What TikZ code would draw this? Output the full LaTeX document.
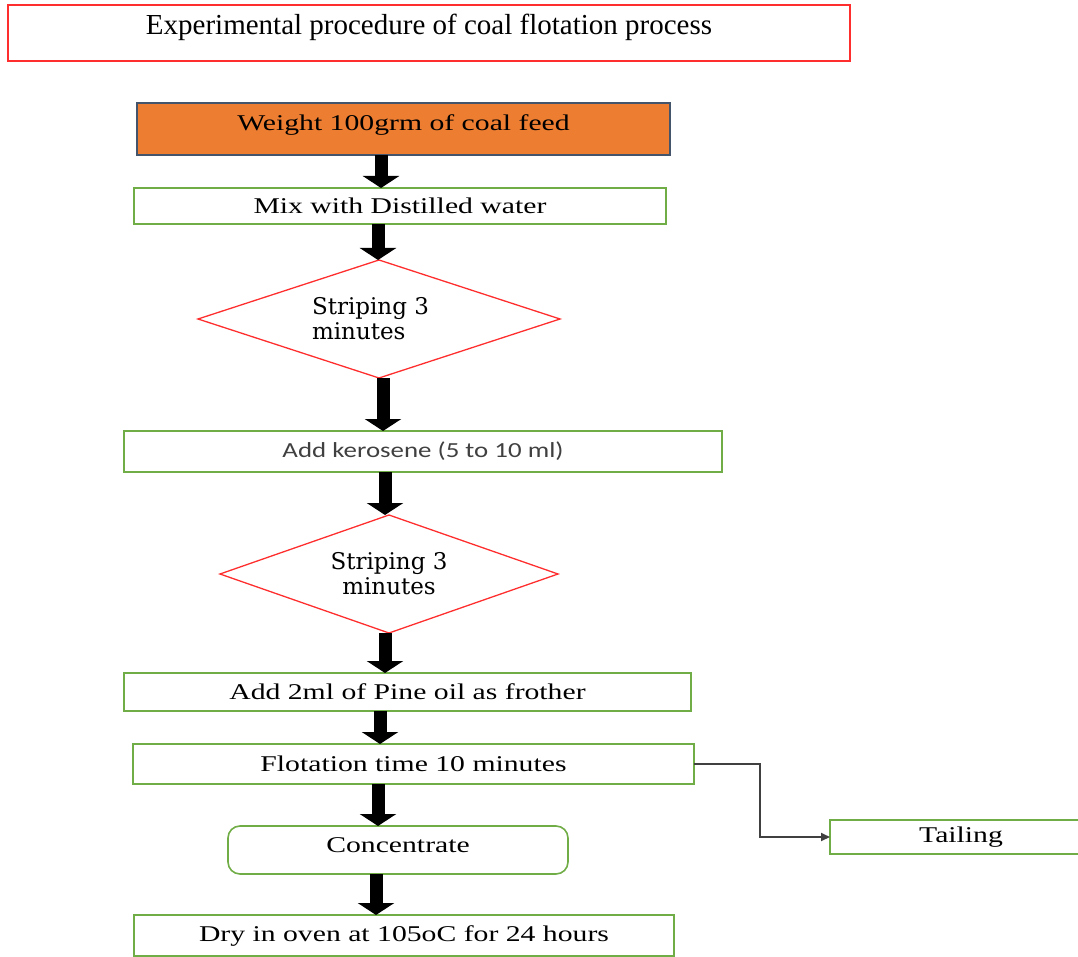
\documentclass[tikz,border=0pt]{standalone}
\usepackage{fontspec}
\setmainfont{Liberation Serif}
\newfontfamily\widefont{Liberation Serif}[FakeStretch=1.32]
\newfontfamily\slabfont{DejaVu Serif}
\newfontfamily\kerofont{Carlito}[FakeStretch=1.25]
\usepackage{tikz}
\usetikzlibrary{shapes.geometric,arrows.meta}
\definecolor{boxgreen}{HTML}{70AD47}
\definecolor{boxred}{HTML}{FF2E2E}
\definecolor{feedorange}{HTML}{ED7D31}
\definecolor{feededge}{HTML}{44546A}

\begin{document}
\begin{tikzpicture}[x=1pt,y=-1pt,
  every node/.style={inner sep=0pt,outer sep=0pt,font=\widefont\fontsize{22.5}{25}\selectfont},
  stepbox/.style={draw=boxgreen,line width=1.6pt},
  choice/.style={diamond,aspect=3,draw=boxred,line width=1.3pt,align=left,font=\slabfont\fontsize{23}{25}\selectfont},
  flowarrow/.style={line width=13pt,-{Triangle[width=36pt,length=12pt]}},
  sidearrow/.style={black!75,line width=1.8pt,-{Triangle[width=8pt,length=9pt]}}]
  \useasboundingbox (0,0) rectangle (1078,957);
  \node[draw=boxred,line width=2.2pt,minimum width=842pt,minimum height=56pt,text depth=18pt,
    font=\fontsize{29}{32}\selectfont] (title) at (429,33) {Experimental procedure of coal flotation process};
  \node[fill=feedorange,draw=feededge,line width=1.6pt,minimum width=533pt,minimum height=52pt,text depth=12pt]
    (weight) at (403.5,129) {Weight 100grm of coal feed};
  \node[stepbox,minimum width=532pt,minimum height=36pt] (mix) at (400,206) {Mix with Distilled water};
  \node[choice,minimum width=362pt,minimum height=118pt] (strip1) at (379,319)
    {Striping 3\hspace*{17pt}\\minutes};
  \node[stepbox,minimum width=598pt,minimum height=41pt,text=black!75,
    font=\kerofont\fontsize{21.5}{25}\selectfont] (kero) at (423,451.5) {Add kerosene (5 to 10 ml)};
  \node[choice,minimum width=338pt,minimum height=118pt,align=center] (strip2) at (389,574) {Striping 3\\minutes};
  \node[stepbox,minimum width=567pt,minimum height=38pt] (pine) at (407.5,692) {Add 2ml of Pine oil as frother};
  \node[stepbox,minimum width=561pt,minimum height=40pt] (flot) at (413.5,764) {Flotation time 10 minutes};
  \node[stepbox,rounded corners=12pt,minimum width=340pt,minimum height=48pt,text depth=10pt]
    (conc) at (398,850) {Concentrate};
  \node[stepbox,minimum width=540pt,minimum height=41pt] (dry) at (404,935.5) {Dry in oven at 105oC for 24 hours};
  \node[stepbox,minimum width=262pt,minimum height=34pt] (tail) at (961,837) {Tailing};
  \draw[flowarrow] (weight.south -| 381,0) -- (mix.north -| 381,0);
  \draw[flowarrow] (mix.south -| 378,0) -- (strip1.north -| 378,0);
  \draw[flowarrow] (strip1.south -| 383,0) -- (kero.north -| 383,0);
  \draw[flowarrow] (kero.south -| 385,0) -- (strip2.north -| 385,0);
  \draw[flowarrow] (strip2.south -| 385,0) -- (pine.north -| 385,0);
  \draw[flowarrow] (pine.south -| 380,0) -- (flot.north -| 380,0);
  \draw[flowarrow] (flot.south -| 378,0) -- (conc.north -| 378,0);
  \draw[flowarrow] (conc.south -| 376,0) -- (dry.north -| 376,0);
  \draw[sidearrow] (flot.east) -- ++(66,0) |- (tail.west);
\end{tikzpicture}
\end{document}
